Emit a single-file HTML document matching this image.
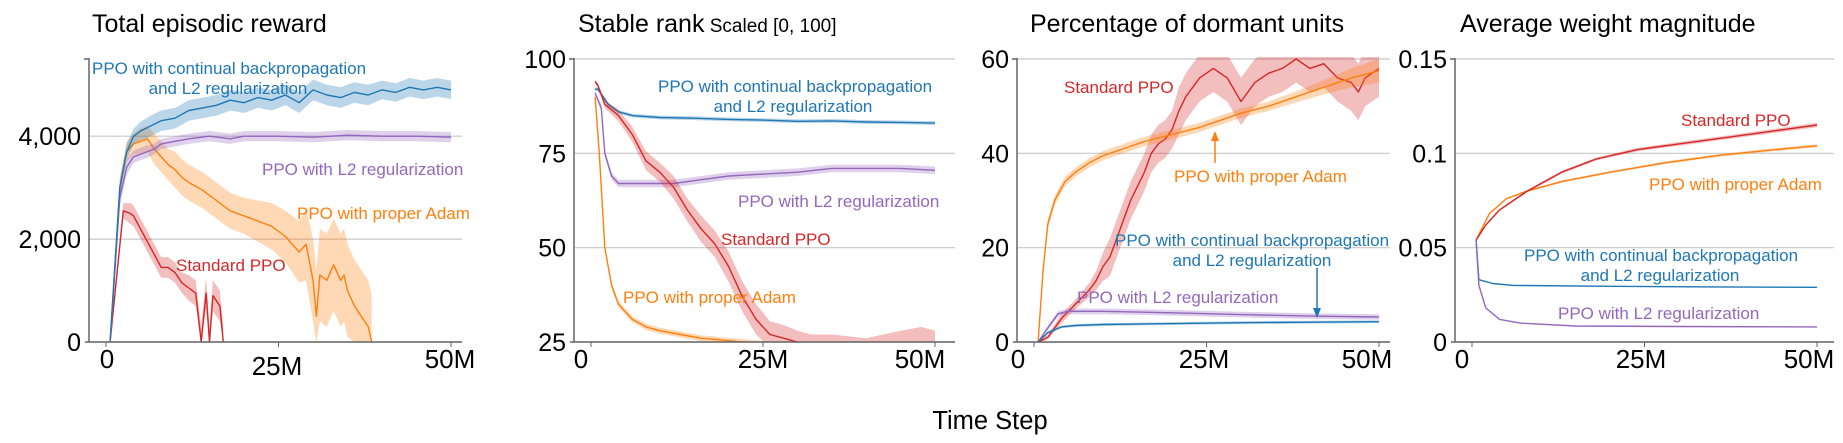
<!DOCTYPE html>
<html><head><meta charset="utf-8">
<style>
html,body{margin:0;padding:0;background:#fff;}
svg{display:block;font-family:"Liberation Sans",Arial,sans-serif;}
</style></head>
<body>
<svg id="fig" width="1843" height="443" viewBox="0 0 1843 443" xmlns="http://www.w3.org/2000/svg">
<text x="990" y="429" font-size="25.5" text-anchor="middle" fill="#000">Time Step</text>
</svg>
<script>
// ---------- Panel 1: Total episodic reward ----------
const rewardRedX = [0.6,2.5,3.5,4,5,6,7,8,9,10,11,12,13,13.8,14.5,15,15.5,16.5,17];
const rewardRedY = [0,2550,2500,2450,2200,1950,1700,1450,1450,1350,1150,1050,950,0,950,0,900,700,0];
const rewardRedB = [0,150,200,200,200,200,200,200,200,200,200,250,250,300,300,300,300,300,300];
const rewardOrX = [0.6,2,3,4,5,6,7,8,9,10,11,12,14,16,18,20,22,24,26,28,29,30,30.5,31,32,33,34,34.5,35,36,37,38,38.5];
const rewardOrY = [0,3000,3700,3850,3900,3950,3750,3600,3450,3350,3200,3100,2950,2750,2550,2450,2350,2250,2050,1750,1900,1200,500,1300,1200,1500,1200,1300,1000,700,500,300,0];
const rewardOrB = [0,200,200,200,250,250,300,300,300,350,350,350,350,350,350,350,400,450,500,600,700,800,900,900,900,900,900,900,900,900,900,900,900];
const rewardBlX = [0.6,2,3,4,5,6.5,8,10,12,14,16,18,20,22,24,26,28,30,32,34,36,38,40,42,44,46,48,50];
const rewardBlY = [0,3000,3700,4000,4100,4200,4300,4350,4500,4550,4600,4700,4650,4750,4700,4800,4650,4900,4800,4750,4850,4800,4900,4850,4950,4900,4950,4900];
const rewardBlB = [0,150,150,150,180,200,200,200,200,200,200,200,200,200,200,200,200,200,200,200,200,200,180,180,180,180,180,180];
const rewardPuX = [0.6,2,3,4,6,7,8,10,12,15,18,20,25,30,35,40,45,50];
const rewardPuY = [0,2800,3400,3600,3700,3750,3850,3900,3950,4000,3950,4000,4000,3980,4020,4000,4000,3980];
const rewardPuB = [0,150,150,120,120,100,100,100,100,100,100,100,100,100,100,100,100,100];
const rewardTicks = [0,2000,4000];
const rewardTickLabels = ["0","2,000","4,000"];

// ---------- Panel 2: Stable rank ----------
const rankRedX = [0.6,1,2,4,6,8,10,12,14,16,18,20,22,24,26,28,30,32,35,40,45,48,50];
const rankRedY = [94,93,88,85,80,73,70,66,60,55,51,45,37,31,27,26,25,24,24,23,24,24,24];
const rankRedB = [0.5,0.5,1,1.5,2,2.5,2.5,3,3,3.5,3.5,4,4,4,3.5,3.5,3,3,3,3,4,5,4];
const rankBlX = [0.6,1,2.5,4,6,10,15,20,25,30,35,40,45,50];
const rankBlY = [92,92,88,86,85,84.5,84.3,84,83.8,83.5,83.6,83.3,83.2,83];
const rankBlB = [0.5,0.5,0.5,0.5,0.5,0.5,0.5,0.5,0.5,0.5,0.5,0.5,0.5,0.5];
const rankPuX = [0.6,1.5,2,3,4,8,12,16,20,25,30,35,40,45,50];
const rankPuY = [91,87,75,69,67,67,67,68,69,69.5,70,71,71,71,70.5];
const rankPuB = [0.5,1,1,1,1,1,1,1,1,1,1,1,1,1,1];
const rankOrX = [0.6,1.2,2,3,4,6,8,10,13,16,19,22,25,30];
const rankOrY = [90,75,50,40,35,31,29,28,27,26,25.5,25,24.5,24];
const rankOrB = [0.5,0.8,0.8,0.8,0.8,0.8,0.8,0.8,0.8,0.8,0.8,0.8,0.8,0.8];
const rankTicks = [25,50,75,100];
const rankTickLabels = ["25","50","75","100"];

// ---------- Panel 3: Dormant units ----------
const dormOrX = [0.6,1.3,2,3,4.5,6,8,10,13,16,20,24,27,30,34,38,42,46,50];
const dormOrY = [0,15,25,30,34,36,38,39.5,41,42.5,44,45.5,47,48.5,50,52,54,56,57.5];
const dormOrB = [0.5,1,1,1,1,1,1,1,1,1,1,1,1,1,1,1.2,1.5,2,2.5];
const dormRedX = [0.6,2,4,6,8,9,10,11,12,13,14,15,16,17,18,19,20,21,22,24,26,28,30,32,34,36,38,40,42,44,46,47,48,50];
const dormRedY = [0,1,5,8,11,13,16,18,22,26,30,33,36,40,42,43,45,49,52,56,58,56,51,55,57,58,60,58,59,56,55,53,56,58];
const dormRedB = [0.3,0.5,1,1,1.5,2,3,4,4,4,4,4,4,4,4,4,4,5,5,5,5,5,5,5,5,5,5,5,5,5,6,6,6,6];
const dormPuX = [0.6,2,3.5,5,10,20,30,40,50];
const dormPuY = [0,3,6,6.5,6.5,6.2,5.8,5.5,5.3];
const dormPuB = [0.2,0.5,0.6,0.6,0.6,0.6,0.6,0.6,0.6];
const dormBlX = [0.6,2,4,6,10,20,30,40,50];
const dormBlY = [0,2,3.2,3.5,3.7,3.9,4.1,4.2,4.3];
const dormBlB = [0.2,0.3,0.3,0.3,0.3,0.3,0.3,0.3,0.3];
const dormTicks = [0,20,40,60];
const dormTickLabels = ["0","20","40","60"];

// ---------- Panel 4: Weight magnitude ----------
const wRedX = [0.6,2,4,8,13,18,24,30,38,44,50];
const wRedY = [0.054,0.062,0.070,0.080,0.090,0.097,0.102,0.105,0.109,0.112,0.115];
const wRedB = [0.0003,0.0004,0.0005,0.0006,0.0007,0.0008,0.0009,0.001,0.001,0.0011,0.0012];
const wOrX = [0.6,2.5,5,8,13,20,28,36,44,50];
const wOrY = [0.054,0.068,0.076,0.080,0.085,0.090,0.095,0.099,0.102,0.104];
const wOrB = [0.0003,0.0004,0.0005,0.0005,0.0006,0.0006,0.0007,0.0007,0.0008,0.0008];
const wBlX = [0.6,1,3,6,20,35,50];
const wBlY = [0.054,0.033,0.031,0.030,0.0295,0.0292,0.029];
const wBlB = [0.0002,0.0002,0.0002,0.0002,0.0002,0.0002,0.0002];
const wPuX = [0.6,1,2,4,7,15,30,50];
const wPuY = [0.054,0.030,0.018,0.012,0.010,0.0085,0.0082,0.008];
const wPuB = [0.0002,0.0002,0.0002,0.0002,0.0002,0.0002,0.0002,0.0002];
const wTicks = [0,0.05,0.1,0.15];
const wTickLabels = ["0","0.05","0.1","0.15"];

const xTickSteps = [0,25,50];

const C = {blue:"#1f77b4", orange:"#ff7f0e", red:"#d62728", purple:"#9467bd"};
const NS = "http://www.w3.org/2000/svg";
const svg = document.getElementById('fig');

function mk(tag, attrs, parent){
  const e = document.createElementNS(NS, tag);
  for (const k in attrs) e.setAttribute(k, attrs[k]);
  (parent||svg).appendChild(e);
  return e;
}

function panel(cfg){
  const g = mk('g', {});
  
  
  const xs = v => cfg.x0 + (v/50)*(cfg.x50 - cfg.x0);
  const ys = v => cfg.bottom - (v - cfg.ymin)/(cfg.ymax - cfg.ymin)*(cfg.bottom - 59);
  const clip = 'clip-' + cfg.name;
  const cp = mk('clipPath', {id: clip}, g);
  mk('rect', {x: cfg.axisX, y: 57, width: cfg.right - cfg.axisX, height: cfg.bottom - 57}, cp);
  cfg.ticks.forEach((t, i) => {
    const gl = mk('line', {x1: cfg.axisX, x2: cfg.right, y1: ys(t), y2: ys(t), stroke: '#c8c8c8', 'stroke-width': 1.2}, g);
    
    
    const tl = mk('text', {x: cfg.axisX - 8, y: ys(t) + 9, 'font-size': 25, 'text-anchor': 'end', fill: '#000'}, g);
    tl.textContent = cfg.tickLabels[i];
    
    
  });
  const sg = mk('g', {'clip-path': 'url(#' + clip + ')'}, g);
  cfg.series.forEach(s => {
    let up = '', lo = '';
    s.x.forEach((xv, i) => { up += (i ? 'L' : 'M') + xs(xv).toFixed(1) + ',' + ys(s.y[i] + s.b[i]).toFixed(1); });
    for (let i = s.x.length - 1; i >= 0; i--) lo += 'L' + xs(s.x[i]).toFixed(1) + ',' + ys(Math.max(cfg.ymin - 5, s.y[i] - s.b[i])).toFixed(1);
    const band = mk('path', {d: up + lo + 'Z', fill: s.c, 'fill-opacity': 0.3, stroke: 'none'}, sg);
    
    
    let d = '';
    s.x.forEach((xv, i) => { d += (i ? 'L' : 'M') + xs(xv).toFixed(1) + ',' + ys(s.y[i]).toFixed(1); });
    const ln = mk('path', {d: d, fill: 'none', stroke: s.c, 'stroke-width': 1.4, 'stroke-linejoin': 'round'}, sg);
    
    
  });
  const ya = mk('line', {x1: cfg.axisX, x2: cfg.axisX, y1: 58, y2: cfg.bottom, stroke: '#666', 'stroke-width': 1.5}, g);
  
  
  const xa = mk('line', {x1: cfg.axisX - 4, x2: cfg.right, y1: cfg.bottom, y2: cfg.bottom, stroke: '#666', 'stroke-width': 1.5}, g);
  
  
  mk('line', {x1: cfg.axisX - 5, x2: cfg.axisX, y1: 59, y2: 59, stroke: '#666', 'stroke-width': 1.5}, g);
  xTickSteps.forEach((t, i) => {
    mk('line', {x1: xs(t), x2: xs(t), y1: cfg.bottom, y2: cfg.bottom + 5, stroke: '#666', 'stroke-width': 1}, g);
    const tl = mk('text', {x: cfg.xLabelX[i], y: cfg.xLabelY[i], 'font-size': 26, 'text-anchor': 'middle', fill: '#000'}, g);
    tl.textContent = t === 0 ? '0' : t + 'M';
    
    
  });
  const tt = mk('text', {x: cfg.titleX, y: 32, 'font-size': 25, fill: '#000'}, g);
  tt.textContent = cfg.title;
  if (cfg.subtitle) {
    const ts = mk('tspan', {'font-size': 19}, tt);
    ts.textContent = ' ' + cfg.subtitle;
  }
  
  
  cfg.labels.forEach(l => {
    const t = mk('text', {x: l[0], y: l[1], 'font-size': 17, fill: l[3], 'text-anchor': l[4] || 'start'}, g);
    t.textContent = l[2];
    
    
  });
  (cfg.arrows || []).forEach(a => {
    mk('line', {x1: a[0], y1: a[1], x2: a[0], y2: a[2] + (a[2] > a[1] ? -8 : 8), stroke: a[3], 'stroke-width': 1.5}, g);
    const dir = a[2] > a[1] ? -1 : 1;
    const ar = mk('path', {d: `M${a[0]},${a[2]} L${a[0]-4},${a[2]+dir*10} L${a[0]+4},${a[2]+dir*10} Z`, fill: a[3]}, g);
    
    
  });
}

panel({name:'reward-panel', title:'Total episodic reward', titleX:92, axisX:89, x0:106, x50:451, right:462, bottom:342, ymin:0, ymax:5500,
  ticks: rewardTicks, tickLabels: rewardTickLabels, xLabelX:[107,277,450], xLabelY:[368,375,368],
  series:[
    {key:'red', c:C.red, x:rewardRedX, y:rewardRedY, b:rewardRedB},
    {key:'orange', c:C.orange, x:rewardOrX, y:rewardOrY, b:rewardOrB},
    {key:'purple', c:C.purple, x:rewardPuX, y:rewardPuY, b:rewardPuB},
    {key:'blue', c:C.blue, x:rewardBlX, y:rewardBlY, b:rewardBlB}],
  labels:[[92,74,'PPO with continual backpropagation',C.blue],[228,94,'and L2 regularization',C.blue,'middle'],
    [262,175,'PPO with L2 regularization',C.purple],[297,219,'PPO with proper Adam',C.orange],[176,271,'Standard PPO',C.red]]});

panel({name:'stable-rank-panel', title:'Stable rank', subtitle:'Scaled [0, 100]', titleX:578, axisX:574, x0:591, x50:935, right:955, bottom:342, ymin:25, ymax:100,
  ticks: rankTicks, tickLabels: rankTickLabels, xLabelX:[581,763,920], xLabelY:[368,368,368],
  series:[
    {key:'orange', c:C.orange, x:rankOrX, y:rankOrY, b:rankOrB},
    {key:'purple', c:C.purple, x:rankPuX, y:rankPuY, b:rankPuB},
    {key:'blue', c:C.blue, x:rankBlX, y:rankBlY, b:rankBlB},
    {key:'red', c:C.red, x:rankRedX, y:rankRedY, b:rankRedB}],
  labels:[[658,92,'PPO with continual backpropagation',C.blue],[793,112,'and L2 regularization',C.blue,'middle'],
    [738,207,'PPO with L2 regularization',C.purple],[721,245,'Standard PPO',C.red],[623,303,'PPO with proper Adam',C.orange]]});

panel({name:'dormant-units-panel', title:'Percentage of dormant units', titleX:1030, axisX:1017, x0:1034, x50:1379, right:1390, bottom:342, ymin:0, ymax:60,
  ticks: dormTicks, tickLabels: dormTickLabels, xLabelX:[1018,1204,1367], xLabelY:[368,368,368],
  series:[
    {key:'red', c:C.red, x:dormRedX, y:dormRedY, b:dormRedB},
    {key:'orange', c:C.orange, x:dormOrX, y:dormOrY, b:dormOrB},
    {key:'purple', c:C.purple, x:dormPuX, y:dormPuY, b:dormPuB},
    {key:'blue', c:C.blue, x:dormBlX, y:dormBlY, b:dormBlB}],
  labels:[[1064,93,'Standard PPO',C.red],[1174,182,'PPO with proper Adam',C.orange],
    [1115,246,'PPO with continual backpropagation',C.blue],[1252,266,'and L2 regularization',C.blue,'middle'],
    [1077,303,'PPO with L2 regularization',C.purple]],
  arrows:[[1215,163,131,C.orange],[1317,268,318,C.blue]]});

panel({name:'weight-magnitude-panel', title:'Average weight magnitude', titleX:1460, axisX:1455, x0:1472, x50:1817, right:1834, bottom:342, ymin:0, ymax:0.15,
  ticks: wTicks, tickLabels: wTickLabels, xLabelX:[1462,1641,1809], xLabelY:[368,368,368],
  series:[
    {key:'orange', c:C.orange, x:wOrX, y:wOrY, b:wOrB},
    {key:'red', c:C.red, x:wRedX, y:wRedY, b:wRedB},
    {key:'blue', c:C.blue, x:wBlX, y:wBlY, b:wBlB},
    {key:'purple', c:C.purple, x:wPuX, y:wPuY, b:wPuB}],
  labels:[[1681,126,'Standard PPO',C.red],[1649,190,'PPO with proper Adam',C.orange],
    [1524,261,'PPO with continual backpropagation',C.blue],[1660,281,'and L2 regularization',C.blue,'middle'],
    [1558,319,'PPO with L2 regularization',C.purple]]});
</script>
</body></html>
